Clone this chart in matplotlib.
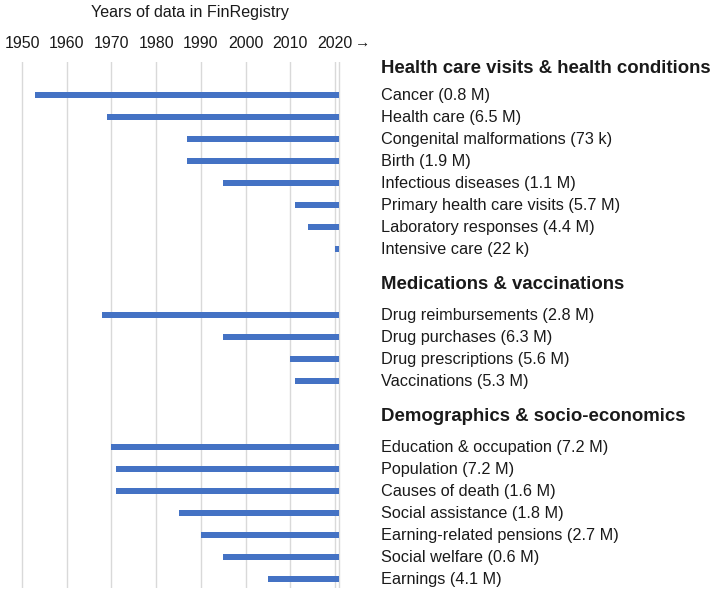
"""Timeline of registry coverage in FinRegistry (years of data per register)."""

import matplotlib

matplotlib.use("Agg")
import matplotlib.pyplot as plt
from matplotlib.transforms import blended_transform_factory

plt.rcParams["font.family"] = ["Liberation Sans", "DejaVu Sans"]

GROUPS = ["Health care visits & health conditions", "Medications & vaccinations",
          "Demographics & socio-economics"]
HEALTH = ["Cancer (0.8 M)", "Health care (6.5 M)", "Congenital malformations (73 k)", "Birth (1.9 M)",
          "Infectious diseases (1.1 M)", "Primary health care visits (5.7 M)",
          "Laboratory responses (4.4 M)", "Intensive care (22 k)"]
HEALTH_START = [1953, 1969, 1987, 1987, 1995, 2011, 2014, 2020]
MEDS = ["Drug reimbursements (2.8 M)", "Drug purchases (6.3 M)", "Drug prescriptions (5.6 M)",
        "Vaccinations (5.3 M)"]
MEDS_START = [1968, 1995, 2010, 2011]
DEMO = ["Education & occupation (7.2 M)", "Population (7.2 M)", "Causes of death (1.6 M)",
        "Social assistance (1.8 M)", "Earning-related pensions (2.7 M)", "Social welfare (0.6 M)",
        "Earnings (4.1 M)"]
DEMO_START = [1970, 1971, 1971, 1985, 1990, 1995, 2005]
END_YEAR = 2021
DECADES = [1950, 1960, 1970, 1980, 1990, 2000, 2010, 2020]

BLUE = "#4472C4"
GRID = "#d9d9d9"
INK = "#1a1a1a"

fig = plt.figure(figsize=(7.22, 5.99), dpi=100)
ax = fig.add_axes([13.06 / 722, 11 / 599, 330.9 / 722, 526 / 599])
ax.set_xlim(1948, 2022)
ax.set_ylim(22.4, -1.5)
for s in ax.spines.values():
    s.set_visible(False)
for yr in DECADES + [END_YEAR]:
    ax.axvline(yr, color=GRID, lw=1.0, zorder=0)

tr = blended_transform_factory(fig.transFigure, ax.transData)
lab_x = 381 / 722
row = 0
head_off = [1.22, 1.38, 1.38]   # header sits a bit above the first row of its block
for gi, (names, starts) in enumerate([(HEALTH, HEALTH_START), (MEDS, MEDS_START), (DEMO, DEMO_START)]):
    ax.text(lab_x, row - head_off[gi], GROUPS[gi], transform=tr, fontsize=13.4, fontweight="bold",
            color=INK, va="center", ha="left", clip_on=False)
    for name, st in zip(names, starts):
        ax.barh(row, END_YEAR - st, left=st, height=0.3, color=BLUE, zorder=2)
        ax.text(lab_x, row, name, transform=tr, fontsize=11.7, color=INK, va="center", ha="left",
                clip_on=False)
        row += 1
    row += 2

ax.xaxis.tick_top()
ax.set_xticks(DECADES)
ax.set_xticklabels([str(d) for d in DECADES], fontsize=11.5, color=INK)
ax.tick_params(axis="x", length=0, pad=8)
ax.set_yticks([])
fig.text(363 / 722, 1 - 43 / 599, "\u2192", fontsize=11, color=INK, ha="center", va="center")
fig.text(190 / 722, 1 - 12.5 / 599, "Years of data in FinRegistry", fontsize=11.6, color=INK,
         ha="center", va="center")

fig.savefig("out.png", dpi=100)
